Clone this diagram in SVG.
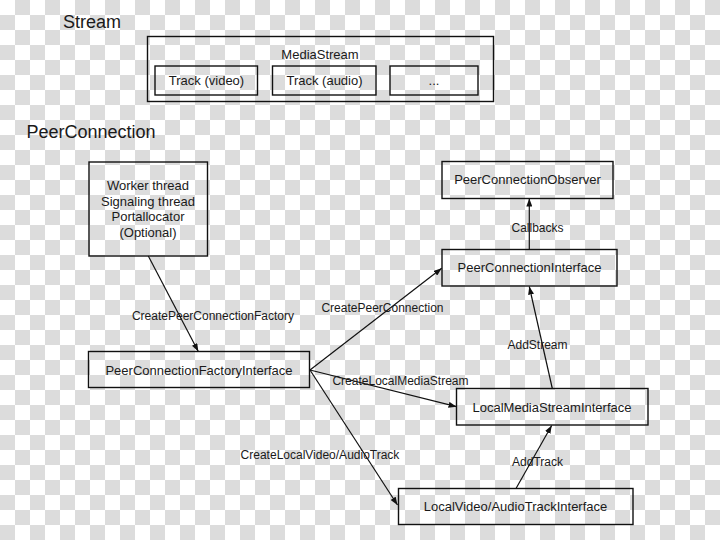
<svg xmlns="http://www.w3.org/2000/svg" width="720" height="540" viewBox="0 0 720 540">
<defs>
<pattern id="checker" x="0" y="0" width="30" height="30" patternUnits="userSpaceOnUse">
<rect x="0" y="0" width="30" height="30" fill="#ffffff"/>
<rect x="15" y="0" width="15" height="15" fill="#dcdcdc"/>
<rect x="0" y="15" width="15" height="15" fill="#dcdcdc"/>
</pattern>
<marker id="arrow" viewBox="0 0 8 6" refX="8" refY="3" markerWidth="8" markerHeight="6" markerUnits="userSpaceOnUse" orient="auto">
<path d="M0,0 L8,3 L0,6 z" fill="#111"/>
</marker>
<style>
.box{fill:none;stroke:#111;stroke-width:1.4}
.t{font-family:"Liberation Sans",Arial,sans-serif;font-size:13px;fill:#1a1a1a;text-anchor:middle}
.lbl{font-family:"Liberation Sans",Arial,sans-serif;font-size:12px;fill:#1a1a1a;text-anchor:middle}
.title{font-family:"Liberation Sans",Arial,sans-serif;font-size:18px;fill:#1a1a1a}
.edge{stroke:#111;stroke-width:1.2;fill:none;marker-end:url(#arrow)}
</style>
</defs>
<rect x="0" y="0" width="720" height="540" fill="url(#checker)"/>

<text class="title" x="63" y="27.5">Stream</text>
<text class="title" x="26.5" y="137.5">PeerConnection</text>

<g id="mediastream">
<rect class="box" x="147.5" y="36.5" width="346" height="65"/>
<text class="t" x="320" y="58.5">MediaStream</text>
<g id="track-video">
<rect class="box" x="155" y="66" width="102.5" height="29"/>
<text class="t" x="206.5" y="85">Track (video)</text>
</g>
<g id="track-audio">
<rect class="box" x="272.5" y="66" width="103.5" height="29"/>
<text class="t" x="324.5" y="85">Track (audio)</text>
</g>
<g id="track-more">
<rect class="box" x="390" y="66" width="88" height="29"/>
<text class="t" x="434" y="85">...</text>
</g>
</g>

<g id="threads">
<rect class="box" x="89" y="162" width="118.5" height="94"/>
<text class="t" x="148" y="190">Worker thread</text>
<text class="t" x="148" y="205.5">Signaling thread</text>
<text class="t" x="148" y="221">Portallocator</text>
<text class="t" x="148" y="236.5">(Optional)</text>
</g>

<g id="factory">
<rect class="box" x="88.5" y="351.5" width="221" height="36"/>
<text class="t" x="199" y="375">PeerConnectionFactoryInterface</text>
</g>

<g id="observer">
<rect class="box" x="442" y="161.5" width="171" height="37"/>
<text class="t" x="527.5" y="183.5">PeerConnectionObserver</text>
</g>

<g id="pci">
<rect class="box" x="442" y="249.5" width="175" height="36.5"/>
<text class="t" x="529.5" y="272">PeerConnectionInterface</text>
</g>

<g id="lmsi">
<rect class="box" x="456.5" y="388.5" width="191.5" height="36.5"/>
<text class="t" x="552" y="411.5">LocalMediaStreamInterface</text>
</g>

<g id="lvati">
<rect class="box" x="398.5" y="488.5" width="234.5" height="36"/>
<text class="t" x="515.5" y="510.5">LocalVideo/AudioTrackInterface</text>
</g>

<g id="connectors">
<line class="edge" x1="148.3" y1="256" x2="198.3" y2="351.5"/>
<text class="lbl" x="213" y="319.5">CreatePeerConnectionFactory</text>

<line class="edge" x1="310" y1="370" x2="441.7" y2="268.3"/>
<text class="lbl" x="382.5" y="311.5">CreatePeerConnection</text>

<line class="edge" x1="310" y1="370" x2="456.5" y2="406.7"/>
<text class="lbl" x="400.5" y="384.5">CreateLocalMediaStream</text>

<line class="edge" x1="310" y1="370" x2="397.5" y2="505"/>
<text class="lbl" x="320" y="458.5">CreateLocalVideo/AudioTrack</text>

<line class="edge" x1="529.3" y1="249.5" x2="529.3" y2="198.5"/>
<text class="lbl" x="537.5" y="231.5">Callbacks</text>

<line class="edge" x1="552.3" y1="388.5" x2="529.3" y2="286.5"/>
<text class="lbl" x="537.5" y="348.5">AddStream</text>

<line class="edge" x1="516" y1="488.5" x2="551.7" y2="425.5"/>
<text class="lbl" x="537.5" y="466">AddTrack</text>
</g>
</svg>
